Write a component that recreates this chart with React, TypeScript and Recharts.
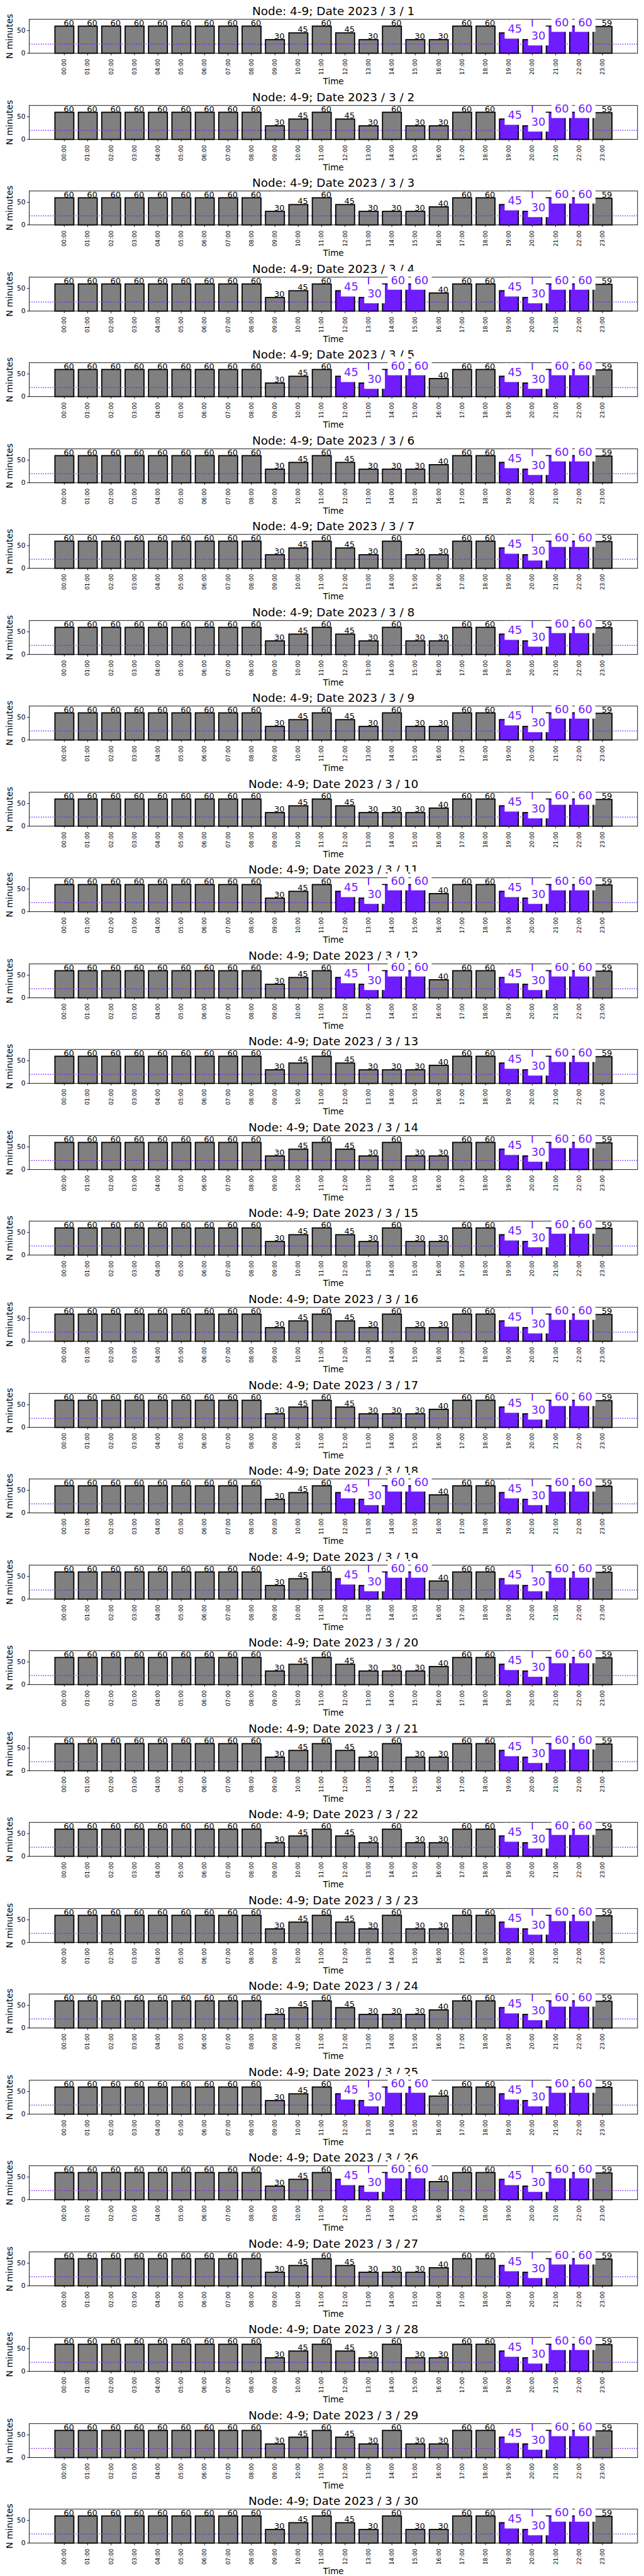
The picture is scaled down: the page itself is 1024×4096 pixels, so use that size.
import { BarChart, Bar, XAxis, YAxis, ReferenceLine, LabelList } from 'recharts';

// ---- data ----
const HOURS = [
  '00:00', '01:00', '02:00', '03:00', '04:00', '05:00', '06:00', '07:00',
  '08:00', '09:00', '10:00', '11:00', '12:00', '13:00', '14:00', '15:00',
  '16:00', '17:00', '18:00', '19:00', '20:00', '21:00', '22:00', '23:00',
];

const DAYS = [
  1, 2, 3, 4, 5, 6, 7, 8, 9, 10, 11, 12, 13, 14, 15,
  16, 17, 18, 19, 20, 21, 22, 23, 24, 25, 26, 27, 28, 29, 30,
];

// minutes per hour, one row per day
const MINUTES: number[][] = [
  [60, 60, 60, 60, 60, 60, 60, 60, 60, 30, 45, 60, 45, 30, 60, 30, 30, 60, 60, 45, 30, 60, 60, 59], // 1
  [60, 60, 60, 60, 60, 60, 60, 60, 60, 30, 45, 60, 45, 30, 60, 30, 30, 60, 60, 45, 30, 60, 60, 59], // 2
  [60, 60, 60, 60, 60, 60, 60, 60, 60, 30, 45, 60, 45, 30, 30, 30, 40, 60, 60, 45, 30, 60, 60, 59], // 3
  [60, 60, 60, 60, 60, 60, 60, 60, 60, 30, 45, 60, 45, 30, 60, 60, 40, 60, 60, 45, 30, 60, 60, 59], // 4
  [60, 60, 60, 60, 60, 60, 60, 60, 60, 30, 45, 60, 45, 30, 60, 60, 40, 60, 60, 45, 30, 60, 60, 59], // 5
  [60, 60, 60, 60, 60, 60, 60, 60, 60, 30, 45, 60, 45, 30, 30, 30, 40, 60, 60, 45, 30, 60, 60, 59], // 6
  [60, 60, 60, 60, 60, 60, 60, 60, 60, 30, 45, 60, 45, 30, 60, 30, 30, 60, 60, 45, 30, 60, 60, 59], // 7
  [60, 60, 60, 60, 60, 60, 60, 60, 60, 30, 45, 60, 45, 30, 60, 30, 30, 60, 60, 45, 30, 60, 60, 59], // 8
  [60, 60, 60, 60, 60, 60, 60, 60, 60, 30, 45, 60, 45, 30, 60, 30, 30, 60, 60, 45, 30, 60, 60, 59], // 9
  [60, 60, 60, 60, 60, 60, 60, 60, 60, 30, 45, 60, 45, 30, 30, 30, 40, 60, 60, 45, 30, 60, 60, 59], // 10
  [60, 60, 60, 60, 60, 60, 60, 60, 60, 30, 45, 60, 45, 30, 60, 60, 40, 60, 60, 45, 30, 60, 60, 59], // 11
  [60, 60, 60, 60, 60, 60, 60, 60, 60, 30, 45, 60, 45, 30, 60, 60, 40, 60, 60, 45, 30, 60, 60, 59], // 12
  [60, 60, 60, 60, 60, 60, 60, 60, 60, 30, 45, 60, 45, 30, 30, 30, 40, 60, 60, 45, 30, 60, 60, 59], // 13
  [60, 60, 60, 60, 60, 60, 60, 60, 60, 30, 45, 60, 45, 30, 60, 30, 30, 60, 60, 45, 30, 60, 60, 59], // 14
  [60, 60, 60, 60, 60, 60, 60, 60, 60, 30, 45, 60, 45, 30, 60, 30, 30, 60, 60, 45, 30, 60, 60, 59], // 15
  [60, 60, 60, 60, 60, 60, 60, 60, 60, 30, 45, 60, 45, 30, 60, 30, 30, 60, 60, 45, 30, 60, 60, 59], // 16
  [60, 60, 60, 60, 60, 60, 60, 60, 60, 30, 45, 60, 45, 30, 30, 30, 40, 60, 60, 45, 30, 60, 60, 59], // 17
  [60, 60, 60, 60, 60, 60, 60, 60, 60, 30, 45, 60, 45, 30, 60, 60, 40, 60, 60, 45, 30, 60, 60, 59], // 18
  [60, 60, 60, 60, 60, 60, 60, 60, 60, 30, 45, 60, 45, 30, 60, 60, 40, 60, 60, 45, 30, 60, 60, 59], // 19
  [60, 60, 60, 60, 60, 60, 60, 60, 60, 30, 45, 60, 45, 30, 30, 30, 40, 60, 60, 45, 30, 60, 60, 59], // 20
  [60, 60, 60, 60, 60, 60, 60, 60, 60, 30, 45, 60, 45, 30, 60, 30, 30, 60, 60, 45, 30, 60, 60, 59], // 21
  [60, 60, 60, 60, 60, 60, 60, 60, 60, 30, 45, 60, 45, 30, 60, 30, 30, 60, 60, 45, 30, 60, 60, 59], // 22
  [60, 60, 60, 60, 60, 60, 60, 60, 60, 30, 45, 60, 45, 30, 60, 30, 30, 60, 60, 45, 30, 60, 60, 59], // 23
  [60, 60, 60, 60, 60, 60, 60, 60, 60, 30, 45, 60, 45, 30, 30, 30, 40, 60, 60, 45, 30, 60, 60, 59], // 24
  [60, 60, 60, 60, 60, 60, 60, 60, 60, 30, 45, 60, 45, 30, 60, 60, 40, 60, 60, 45, 30, 60, 60, 59], // 25
  [60, 60, 60, 60, 60, 60, 60, 60, 60, 30, 45, 60, 45, 30, 60, 60, 40, 60, 60, 45, 30, 60, 60, 59], // 26
  [60, 60, 60, 60, 60, 60, 60, 60, 60, 30, 45, 60, 45, 30, 30, 30, 40, 60, 60, 45, 30, 60, 60, 59], // 27
  [60, 60, 60, 60, 60, 60, 60, 60, 60, 30, 45, 60, 45, 30, 60, 30, 30, 60, 60, 45, 30, 60, 60, 59], // 28
  [60, 60, 60, 60, 60, 60, 60, 60, 60, 30, 45, 60, 45, 30, 60, 30, 30, 60, 60, 45, 30, 60, 60, 59], // 29
  [60, 60, 60, 60, 60, 60, 60, 60, 60, 30, 45, 60, 45, 30, 60, 30, 30, 60, 60, 45, 30, 60, 60, 59], // 30
];

// highlighted (purple) hours
const WEEKEND_DAYS = [4, 5, 11, 12, 18, 19, 25, 26];
const HL_WEEKDAY = ['19:00', '20:00', '21:00', '22:00'];
const HL_WEEKEND = ['12:00', '13:00', '14:00', '15:00', '19:00', '20:00', '21:00', '22:00'];

const THRESHOLD = 20;
const Y_DOMAIN = [0, 75];
const Y_TICKS = [0, 50];

// ---- styling ----
const S = 1024 / 1500;
const W = 1024;
const PANEL_H = 4096 / 30;
const PLOT_L = 68 * S;
const PLOT_R = 1485 * S;
const PLOT_T = 45 * S;
const PLOT_B = 124 * S;
const UNIT = (PLOT_R - PLOT_L) / 26;
const PURPLE = '#6f1cff';
const GRAY = '#808080';
const FONT = '"DejaVu Sans", sans-serif';

const HourTick = (props: any) => {
  const { x, y, payload } = props;
  return (
    <text
      x={0}
      y={0}
      transform={`translate(${x},${y}) rotate(-90)`}
      textAnchor="end"
      dominantBaseline="central"
      fontSize={13 * S}
      fill="#000"
    >
      {payload.value}
    </text>
  );
};

function DayPanel({ day, values }: { day: number; values: number[] }) {
  const hl = WEEKEND_DAYS.includes(day) ? HL_WEEKEND : HL_WEEKDAY;
  const data = HOURS.map((h, i) => ({ hour: h, minutes: values[i], hl: hl.includes(h) }));

  const renderBar = (p: any) => {
    const { x, y, width, height, payload } = p;
    const on = payload.hl;
    const cx = x + width / 2;
    // purple marker line through the whole axis height
    const perUnit = payload.minutes ? height / payload.minutes : 0;
    const topY = y + height - Y_DOMAIN[1] * perUnit;
    return (
      <g>
        <rect x={x} y={y} width={width} height={height} fill={on ? PURPLE : GRAY} stroke="#000" strokeWidth={1.8} />
        {on && <line x1={cx} x2={cx} y1={topY} y2={y + height} stroke={PURPLE} strokeWidth={1.8} />}
      </g>
    );
  };

  const renderLabel = (p: any) => {
    const vb = p.viewBox && p.viewBox.width !== undefined ? p.viewBox : p;
    const { x, y, width } = vb;
    const idx = p.index;
    const on = data[idx] ? data[idx].hl : false;
    const cx = x + width / 2;
    const txt = String(p.value);
    if (!on) {
      return (
        <text x={cx - 1.2} y={y - 0.8} fontSize={19 * S} fill="#000">
          {txt}
        </text>
      );
    }
    const fs = 26 * S;
    const tx = cx - 1.7;
    const tw = txt.length * 0.636 * fs;
    const pad = 7.5 * S;
    return (
      <g>
        <rect x={tx - pad} y={y - 30.5 * S} width={tw + 2 * pad} height={43.9 * S} fill="#fff" />
        <text x={tx} y={y} fontSize={fs} fill={PURPLE}>
          {txt}
        </text>
      </g>
    );
  };

  const midX = (PLOT_L + PLOT_R) / 2;
  const midY = (PLOT_T + PLOT_B) / 2;

  return (
    <div style={{ position: 'relative', width: W, height: PANEL_H }}>
      <svg width={W} height={PANEL_H} style={{ position: 'absolute', left: 0, top: 0 }}>
        <text x={midX} y={35 * S} textAnchor="middle" fontSize={27 * S} fill="#000">
          {`Node: 4-9; Date 2023 / 3 / ${day}`}
        </text>
        <rect x={PLOT_L} y={PLOT_T} width={PLOT_R - PLOT_L} height={PLOT_B - PLOT_T} fill="none" stroke="#000" strokeWidth={0.9} />
        <text
          transform={`translate(${22.5 * S},${midY}) rotate(-90)`}
          textAnchor="middle"
          dominantBaseline="central"
          fontSize={20.5 * S}
          fill="#000"
        >
          N minutes
        </text>
        <text x={midX} y={196.7 * S} textAnchor="middle" fontSize={19.8 * S} fill="#000">
          Time
        </text>
      </svg>
      <div style={{ position: 'absolute', left: 0, top: 0 }}>
        <BarChart
          width={W}
          height={PANEL_H}
          data={data}
          margin={{ top: PLOT_T, right: W - PLOT_R, bottom: 0, left: 0 }}
          barCategoryGap="10%"
        >
          <XAxis
            dataKey="hour"
            type="category"
            interval={0}
            height={PANEL_H - PLOT_B}
            padding={{ left: UNIT, right: UNIT }}
            axisLine={false}
            tickLine={{ stroke: '#000', strokeWidth: 0.9 }}
            tickSize={3.4}
            tickMargin={5.5}
            tick={<HourTick />}
          />
          <YAxis
            type="number"
            domain={Y_DOMAIN}
            ticks={Y_TICKS}
            width={PLOT_L}
            axisLine={false}
            tickLine={{ stroke: '#000', strokeWidth: 0.9 }}
            tickSize={3.4}
            tickMargin={2.5}
            tick={{ fontSize: 15.5 * S, fill: '#000' }}
          />
          <ReferenceLine y={THRESHOLD} stroke={PURPLE} strokeWidth={1.4} strokeDasharray="1.4 2.3" />
          <Bar dataKey="minutes" isAnimationActive={false} shape={renderBar}>
            <LabelList dataKey="minutes" content={renderLabel} />
          </Bar>
        </BarChart>
      </div>
    </div>
  );
}

export default function App() {
  return (
    <div style={{ width: W, fontFamily: FONT, background: '#fff' }}>
      <style>{'body{margin:0;}'}</style>
      {DAYS.map((d, i) => (
        <DayPanel key={d} day={d} values={MINUTES[i]} />
      ))}
    </div>
  );
}
